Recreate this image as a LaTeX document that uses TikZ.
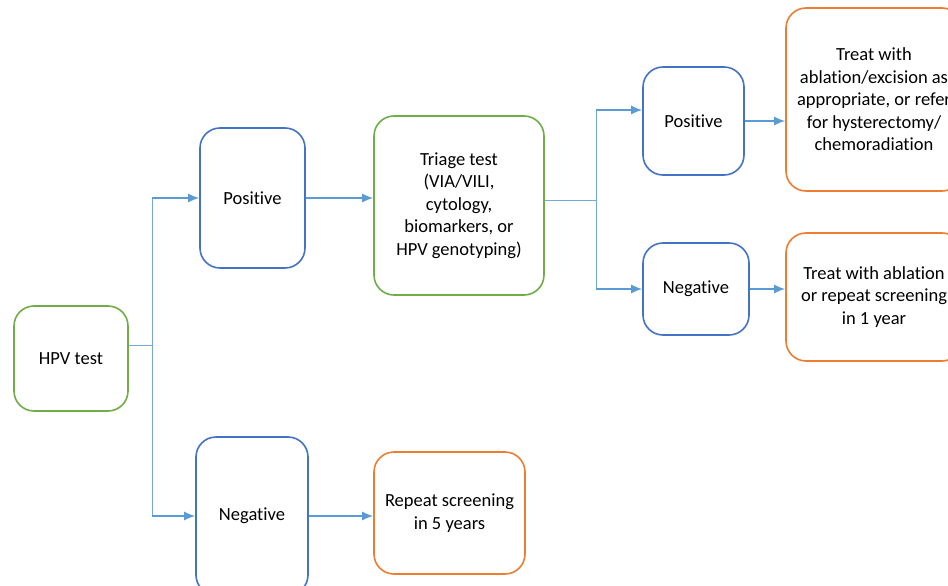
\documentclass[tikz,border=0pt]{standalone}
\usepackage{fontspec}
\setmainfont[RawFeature={-liga;-clig;-calt;-dlig}]{Carlito}
\usetikzlibrary{arrows.meta,positioning}
\definecolor{boxblue}{HTML}{4472C4}
\definecolor{boxgreen}{HTML}{70AD47}
\definecolor{boxorange}{HTML}{ED7D31}
\definecolor{linkblue}{HTML}{5B9BD5}
\tikzstyle{stage} = [draw,line width=1.6pt,rectangle,rounded corners=20pt,align=center,inner sep=2pt,fill=white,font=\fontsize{18.5}{22.5}\selectfont]
\tikzstyle{test} = [stage,draw=boxgreen]
\tikzstyle{result} = [stage,draw=boxblue]
\tikzstyle{action} = [stage,draw=boxorange]
\tikzstyle{flow} = [-{Latex[length=11pt,width=9pt]},line width=1.6pt,draw=linkblue]
\tikzstyle{branch} = [-,line width=0.9pt,draw=linkblue!85]
\def \tu {11pt}

\begin{document}
\begin{tikzpicture}[x=1pt,y=-1pt]
      \fill[white] (0,0) rectangle (948,586);
      \useasboundingbox (0,0) rectangle (948,586);
      \clip (0,0) rectangle (948,586);
      \node[test,minimum width=114pt,minimum height=105pt] (hpv) at (71,358.5) {HPV test};
      \node[result,minimum width=105pt,minimum height=140pt] (pos) at (252.5,198) {Positive};
      \node[result,minimum width=112pt,minimum height=158pt] (neg) at (252,516) {Negative};
      \node[test,minimum width=170pt,minimum height=179pt] (tri) at (459,205.5) {Triage test\\(VIA/VILI,\\cytology,\\biomarkers, or\\HPV genotyping)};
      \node[action,minimum width=151pt,minimum height=122pt] (rep) at (449.5,513) {Repeat screening\\in 5 years};
      \node[result,minimum width=101pt,minimum height=108pt] (rpos) at (693.5,121) {Positive};
      \node[result,minimum width=106pt,minimum height=92pt] (rneg) at (696,289) {Negative};
      \node[action,minimum width=176pt,minimum height=183pt] (treat) at (874,99.5) {Treat with\\ablation/excision as\\appropriate, or refer\\for hysterectomy/\\chemoradiation};
      \node[action,minimum width=176pt,minimum height=128pt] (abl) at (874,297) {Treat with ablation\\or repeat screening\\in 1 year};
      % first split
      \coordinate (hj) at (152,345);
      \draw[branch] (hpv.east |- hj) -- (hj);
      \draw[branch] (hj |- pos.west) -- (hj |- neg.west);
      \draw[flow] (hj |- pos.west) -- (pos.west);
      \draw[flow] (hj |- neg.west) -- (neg.west);
      \draw[flow] (pos.east) -- (pos.east -| tri.west);
      \draw[flow] (neg.east) -- (neg.east -| rep.west);
      % triage split
      \coordinate (tj) at (596,200);
      \draw[branch] (tri.east |- tj) -- (tj);
      \draw[branch] ([yshift=\tu]rpos.west -| tj) -- (rneg.west -| tj);
      \draw[flow] ([yshift=\tu]rpos.west -| tj) -- ([yshift=\tu]rpos.west);
      \draw[flow] (rneg.west -| tj) -- (rneg.west);
      \draw[flow] (rpos.east) -- (rpos.east -| treat.west);
      \draw[flow] (rneg.east) -- (rneg.east -| abl.west);
\end{tikzpicture}
\end{document}
